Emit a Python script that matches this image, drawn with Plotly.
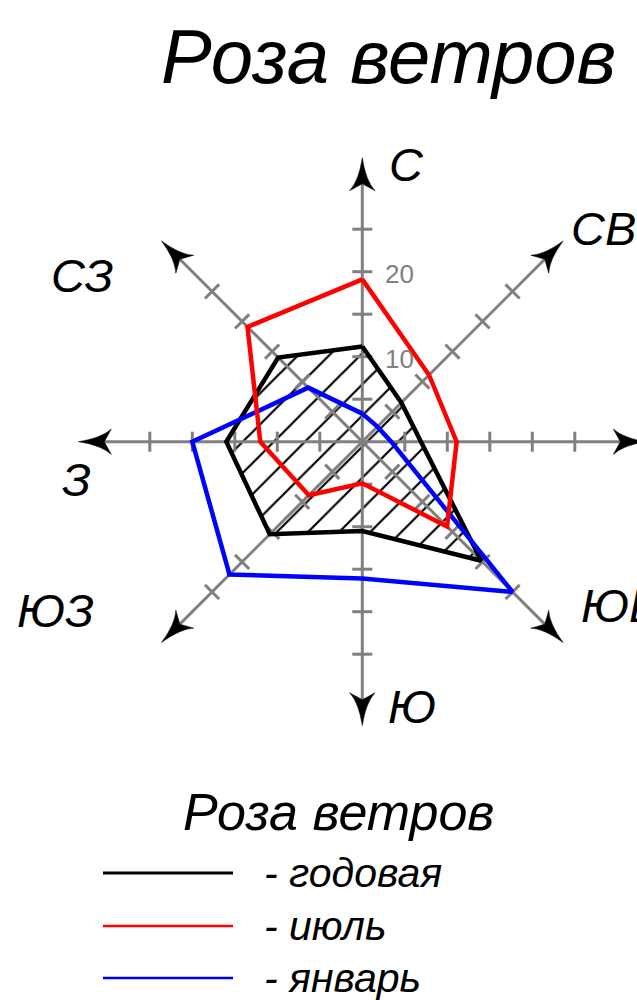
import numpy as np
import plotly.graph_objects as go

# Румбы и повторяемость ветра, %
directions = ["С", "СВ", "В", "ЮВ", "Ю", "ЮЗ", "З", "СЗ"]
annual = [11.2, 6.5, 6.9, 19.8, 10.5, 15.4, 16.0, 14.0]
july = [19.1, 11.1, 11.1, 14.1, 4.9, 8.9, 12.0, 19.1]
january = [3.3, 2.5, 3.4, 25.0, 16.1, 22.1, 20.0, 9.0]
tick_values = [5, 10, 15, 20, 25]
tick_labels = {10: "10", 20: "20"}

W, H = 637, 1000
PX = 8.5              # pixels per unit
CX, CY = 362.3, 441.7  # centre of rose in pixels
R_TIP = 284 / PX      # arrow tip distance
FONT = "Liberation Sans, Arial, sans-serif"
GRAY = "#808080"

bearings = np.radians(np.arange(len(directions)) * 45.0)


def to_xy(r, b):
    return r * np.sin(b), r * np.cos(b)


def polygon(vals):
    x, y = to_xy(np.array(vals), bearings)
    return list(x) + [x[0]], list(y) + [y[0]]


def px2data(px, py):
    return (px - CX) / PX, (CY - py) / PX


fig = go.Figure()

# hatched fill of the annual rose
ax_, ay_ = polygon(annual)
fig.add_trace(go.Scatter(
    x=ax_, y=ay_, mode="lines", fill="toself",
    fillcolor="white",
    fillpattern=dict(shape="/", fgcolor="black", bgcolor="white", fgopacity=1,
                     size=22, solidity=0.1),
    line=dict(width=0), hoverinfo="skip", showlegend=False))

# gray axes
notch = R_TIP - 26 / PX
axx, axy = [], []
for b in bearings[:4]:
    x0, y0 = to_xy(notch, b)
    axx += [x0, -x0, None]
    axy += [y0, -y0, None]
fig.add_trace(go.Scatter(x=axx, y=axy, mode="lines",
                         line=dict(color=GRAY, width=3),
                         hoverinfo="skip", showlegend=False))

# ticks on every ray
half = 10 / PX
tx, ty = [], []
for b in bearings:
    px_, py_ = np.cos(b), -np.sin(b)
    for t in tick_values:
        x0, y0 = to_xy(t, b)
        tx += [x0 - half * px_, x0 + half * px_, None]
        ty += [y0 - half * py_, y0 + half * py_, None]
fig.add_trace(go.Scatter(x=tx, y=ty, mode="lines",
                         line=dict(color=GRAY, width=3),
                         hoverinfo="skip", showlegend=False))

# rose outlines
for vals, color, width in [(annual, "black", 4.5), (january, "#0000ff", 4.5), (july, "#ff0000", 4.5)]:
    x, y = polygon(vals)
    fig.add_trace(go.Scatter(x=x, y=y, mode="lines",
                             line=dict(color=color, width=width),
                             hoverinfo="skip", showlegend=False))

# arrowheads
for b in bearings:
    d = np.array([np.sin(b), np.cos(b)])
    p = np.array([np.cos(b), -np.sin(b)])
    tip = d * R_TIP

    def pt(u, v):
        q = tip - d * (u / PX) + p * (v / PX)
        return f"{q[0]:.3f},{q[1]:.3f}"
    path = (f"M {pt(0, 0)} Q {pt(23, 3.5)} {pt(33, 12.7)} L {pt(26, 0)} "
            f"L {pt(33, -12.7)} Q {pt(23, -3.5)} {pt(0, 0)} Z")
    fig.add_shape(type="path", path=path, fillcolor="black",
                  line=dict(color="black", width=0.5), layer="above")

# direction labels (pixel centres)
label_pos = {"С": (406, 164), "СВ": (603, 228), "В": (680, 440), "ЮВ": (620, 605),
             "Ю": (412, 706), "ЮЗ": (55, 610), "З": (76, 479), "СЗ": (82, 275)}
for name in directions:
    lx, ly = px2data(*label_pos[name])
    fig.add_annotation(x=lx, y=ly, text=name, showarrow=False,
                       font=dict(family=FONT, size=47, color="black", style="italic"),
                       xanchor="center", yanchor="middle")

# radial tick labels
for v, txt in tick_labels.items():
    fig.add_annotation(x=21 / PX, y=v, text=txt, showarrow=False,
                       font=dict(family=FONT, size=26, color=GRAY),
                       xanchor="left", yanchor="middle", yshift=-2)

# title
fig.add_annotation(x=388 / W, y=1 - 56 / H, xref="paper", yref="paper",
                   text="Роза ветров", showarrow=False,
                   font=dict(family=FONT, size=76, color="black", style="italic"),
                   xanchor="center", yanchor="middle")

# legend
fig.add_annotation(x=338 / W, y=1 - 812 / H, xref="paper", yref="paper",
                   text="Роза ветров", showarrow=False,
                   font=dict(family=FONT, size=52, color="black", style="italic"),
                   xanchor="center", yanchor="middle")
legend_items = [("- годовая", "black", 3, 873), ("- июль", "#ff0000", 2.5, 926),
                ("- январь", "#0000ff", 2.5, 978)]
for txt, color, width, ypx in legend_items:
    fig.add_shape(type="line", xref="paper", yref="paper",
                  x0=103 / W, x1=233 / W, y0=1 - ypx / H, y1=1 - ypx / H,
                  line=dict(color=color, width=width))
    fig.add_annotation(x=262 / W, y=1 - ypx / H, xref="paper", yref="paper",
                       text=txt, showarrow=False,
                       font=dict(family=FONT, size=41, color="black", style="italic"),
                       xanchor="left", yanchor="middle")

fig.update_layout(
    width=W, height=H,
    margin=dict(l=0, r=0, t=0, b=0),
    plot_bgcolor="white", paper_bgcolor="white",
    showlegend=False,
    xaxis=dict(range=[-CX / PX, (W - CX) / PX], visible=False, fixedrange=True),
    yaxis=dict(range=[-(H - CY) / PX, CY / PX], visible=False, fixedrange=True),
)

fig.write_html("out.html", config={"displayModeBar": False},
               post_script="document.body.style.margin='0';")
